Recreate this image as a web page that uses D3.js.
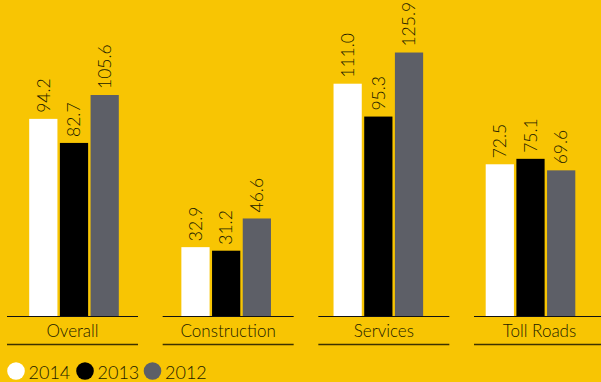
<!DOCTYPE html>
<html>
<head>
<meta charset="utf-8">
<script src="https://cdn.jsdelivr.net/npm/d3@7"></script>
<style>
  html, body { margin: 0; padding: 0; background: #f8c503; }
  svg { display: block; }
  text { font-family: Lato, "Open Sans", sans-serif; font-weight: 300; fill: #221b00; }
</style>
</head>
<body>
<svg id="chart" width="601" height="382"></svg>
<script>
// Segments and yearly series
const categories = ["Overall", "Construction", "Services", "Toll Roads"];
const years = ["2014", "2013", "2012"];
const values2014 = [94.2, 32.9, 111.0, 72.5];
const values2013 = [82.7, 31.2, 95.3, 75.1];
const values2012 = [105.6, 46.6, 125.9, 69.6];
const yearColors = ["#ffffff", "#000000", "#5d5f67"];

const seriesByYear = { "2014": values2014, "2013": values2013, "2012": values2012 };

const svg = d3.select("#chart");
const W = 601, H = 382;
svg.append("rect").attr("width", W).attr("height", H).attr("fill", "#f8c503");

const baseY = 316;

// Group centres for bars and for the axis segments beneath them
const xBars = d3.scalePoint().domain(categories).range([74, 530.5]);
const xAxisSeg = d3.scalePoint().domain(categories).range([72.5, 539.5]);
const x1 = d3.scaleBand().domain(years).range([-44.8, 44.8]).paddingInner(0.08).paddingOuter(0);
const y = d3.scaleLinear().domain([0, 151]).range([baseY, 0]);
const color = d3.scaleOrdinal().domain(years).range(yearColors);

const rows = categories.map((c, i) => ({
  category: c,
  items: years.map(yr => ({ year: yr, value: seriesByYear[yr][i] }))
}));

const groups = svg.append("g").selectAll("g.group")
  .data(rows).join("g")
  .attr("class", "group")
  .attr("transform", d => `translate(${xBars(d.category)},0)`);

groups.selectAll("rect")
  .data(d => d.items).join("rect")
  .attr("x", d => x1(d.year))
  .attr("width", x1.bandwidth())
  .attr("y", d => y(d.value))
  .attr("height", d => baseY - y(d.value))
  .attr("fill", d => color(d.year));

groups.selectAll("text.val")
  .data(d => d.items).join("text")
  .attr("class", "val")
  .attr("transform", d => `translate(${x1(d.year) + x1.bandwidth() / 2},${y(d.value) - 6}) rotate(-90)`)
  .attr("dy", "0.36em")
  .attr("font-size", 17.5)
  .text(d => d.value.toFixed(1));

// Axis segments: baseline, category label, underline
const seg = svg.append("g").selectAll("g.seg")
  .data(categories).join("g")
  .attr("class", "seg")
  .attr("transform", d => `translate(${xAxisSeg(d)},0)`);

seg.append("line")
  .attr("x1", -65.5).attr("x2", 65.5)
  .attr("y1", baseY + 0.5).attr("y2", baseY + 0.5)
  .attr("stroke", "#111").attr("stroke-width", 1.2);

seg.append("text")
  .attr("x", 0).attr("y", 337)
  .attr("text-anchor", "middle")
  .attr("font-size", 17)
  .text(d => d);

seg.append("line")
  .attr("x1", -65.5).attr("x2", 65.5)
  .attr("y1", 344.5).attr("y2", 344.5)
  .attr("stroke", "#3d3200").attr("stroke-width", 1.5);

// Legend
const legendX = [16, 85, 152.5];
const legend = svg.append("g").selectAll("g.leg")
  .data(years).join("g")
  .attr("class", "leg")
  .attr("transform", (d, i) => `translate(${legendX[i]},371)`);

legend.append("circle").attr("r", 8.8).attr("fill", d => color(d));
legend.append("text")
  .attr("x", 12.5).attr("y", 7.5)
  .attr("font-size", 18)
  .text(d => d);
</script>
</body>
</html>
